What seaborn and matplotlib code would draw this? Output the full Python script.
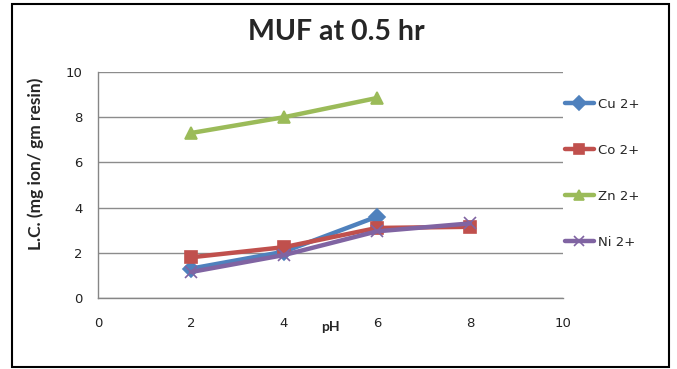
import matplotlib
matplotlib.use("Agg")
import matplotlib.pyplot as plt
from matplotlib.patches import Rectangle
import seaborn as sns
import pandas as pd

# Loading capacity (mg ion / gm resin) vs pH after 0.5 hr
ph_cu = [2, 4, 6]
cu = [1.3, 2.05, 3.6]
ph_co = [2, 4, 6, 8]
co = [1.8, 2.25, 3.1, 3.15]
ph_zn = [2, 4, 6]
zn = [7.3, 8.0, 8.85]
ph_ni = [2, 4, 6, 8]
ni = [1.15, 1.9, 2.95, 3.3]

series = ["Cu 2+", "Co 2+", "Zn 2+", "Ni 2+"]
colors = ["#4F81BD", "#C0504D", "#9BBB59", "#8064A2"]
markers = ["D", "s", "^", "x"]
x_ticks = [0, 2, 4, 6, 8, 10]
y_ticks = [0, 2, 4, 6, 8, 10]

sns.set_theme(style="white")
plt.rcParams["font.family"] = ["DejaVu Sans"]

fig = plt.figure(figsize=(6.77, 3.69), dpi=100)
ax = fig.add_axes([98 / 677, 1 - 298 / 369, (563 - 98) / 677, (298 - 72) / 369])

for name, xs, ys, c, m in zip(series, [ph_cu, ph_co, ph_zn, ph_ni],
                              [cu, co, zn, ni], colors, markers):
    d = pd.DataFrame({"pH": xs, "LC": ys})
    sns.lineplot(data=d, x="pH", y="LC", color=c, marker=m, linewidth=3.2,
                 markersize=8, markeredgecolor=c, markeredgewidth=1.2,
                 ax=ax, label=name, legend=False)

ax.set_xlim(0, 10)
ax.set_ylim(0, 10)
ax.set_xticks(x_ticks)
ax.set_yticks(y_ticks)
ax.tick_params(axis="both", direction="out", length=5, width=1,
               color="#868686", labelsize=9.5, labelcolor="#222222", pad=6)
ax.tick_params(axis="x", pad=9)
ax.yaxis.grid(True, color="#8c8c8c", linewidth=1)
ax.xaxis.grid(False)
ax.set_axisbelow(True)
for side in ["top", "right"]:
    ax.spines[side].set_visible(False)
for side in ["left", "bottom"]:
    ax.spines[side].set_color("#868686")
    ax.spines[side].set_linewidth(1)

ax.set_xlabel("")
ax.set_ylabel("")
fig.text(330 / 677, 1 - 327 / 369, "pH", ha="center", va="center",
         fontsize=10, fontweight="bold", family="Lato")
fig.text(36 / 677, 1 - 164 / 369, "L.C. (mg ion/ gm resin)", rotation=90,
         ha="center", va="center", fontsize=12.5, fontweight="bold", family="Lato")
fig.text(336 / 677, 1 - 32 / 369, "MUF at 0.5 hr", ha="center", va="center",
         fontsize=20.5, fontweight="bold", family="Lato")

handles = [plt.Line2D([], [], color=c, marker=m, linewidth=3.2, markersize=7,
                      markeredgecolor=c, markeredgewidth=1.2)
           for c, m in zip(colors, markers)]
fig.legend(handles, series, loc="upper left", bbox_to_anchor=(553 / 677, 1 - 86 / 369),
           frameon=False, handlelength=2.2, handletextpad=0.3, labelspacing=2.5,
           fontsize=9.5)

fig.patches.append(Rectangle((12 / 677, 2 / 369), (669 - 12) / 677, (365 - 2) / 369,
                             transform=fig.transFigure, fill=False,
                             edgecolor="black", linewidth=1.5))

fig.savefig("out.png", dpi=100)
